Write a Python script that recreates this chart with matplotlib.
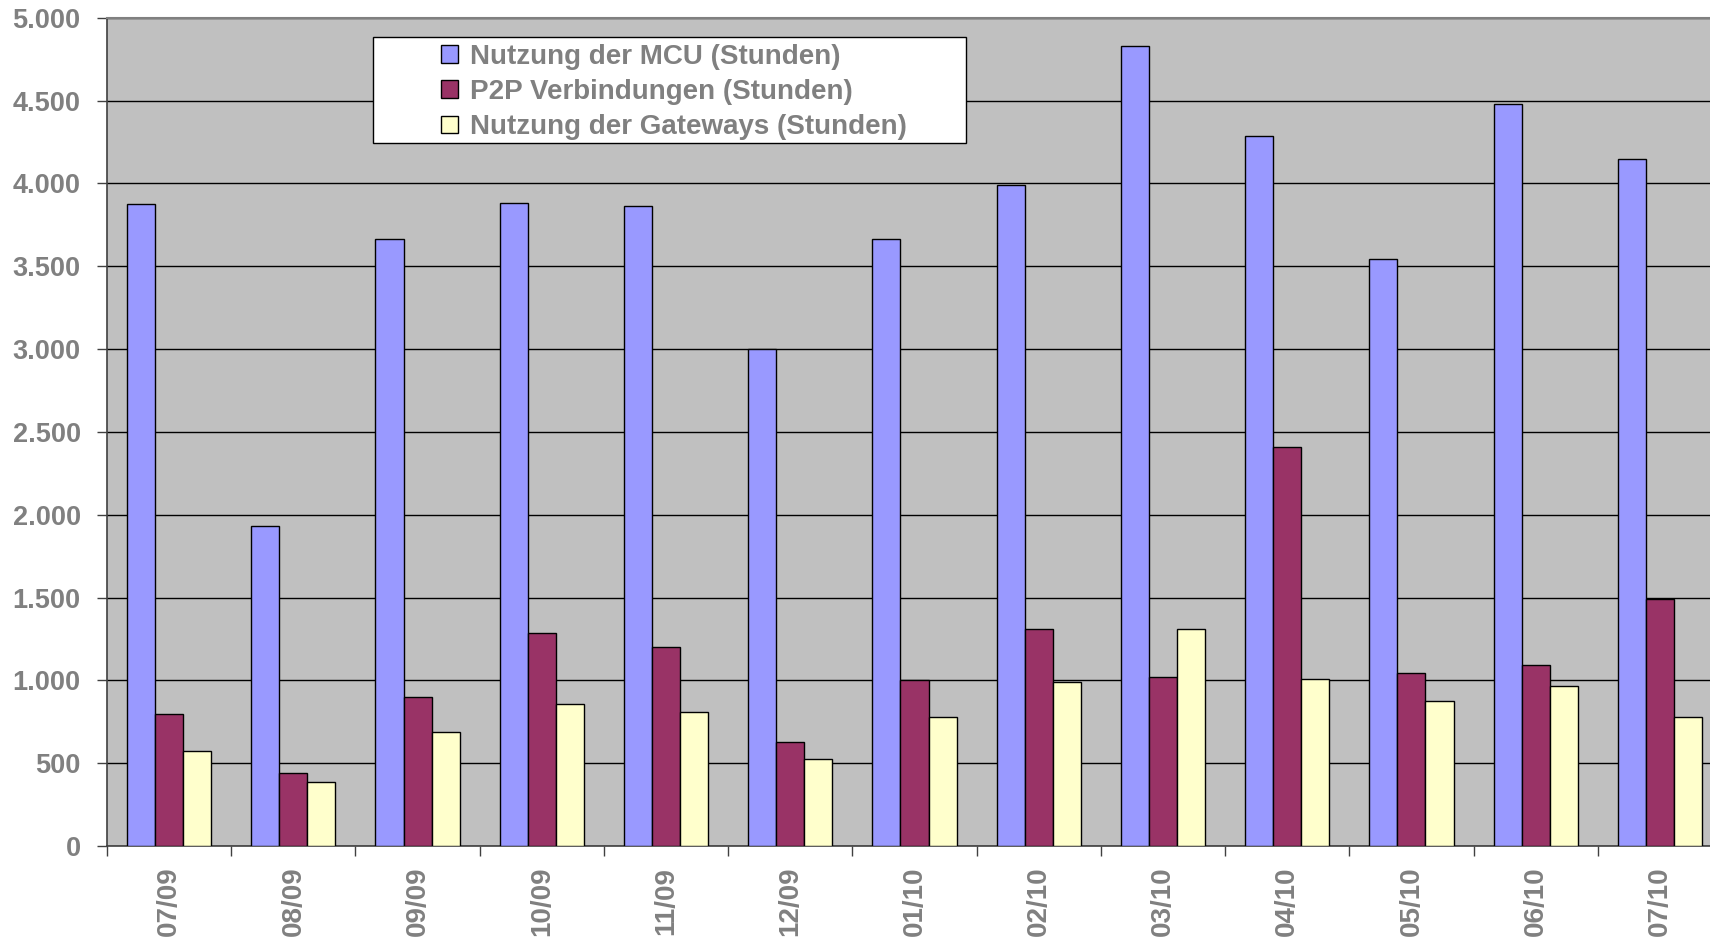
import matplotlib.pyplot as plt
from matplotlib.ticker import FuncFormatter, FixedLocator
from matplotlib.patches import Rectangle
import numpy as np

months = ["07/09", "08/09", "09/09", "10/09", "11/09", "12/09", "01/10",
          "02/10", "03/10", "04/10", "05/10", "06/10", "07/10"]
mcu = [3875, 1934, 3664, 3882, 3862, 3000, 3664, 3987, 4829, 4283, 3546, 4477, 4147]
p2p = [796, 441, 901, 1283, 1204, 625, 1000, 1309, 1020, 2408, 1046, 1092, 1493]
gateways = [572, 388, 691, 855, 809, 526, 776, 987, 1309, 1007, 875, 967, 776]

labels = ["Nutzung der MCU (Stunden)", "P2P Verbindungen (Stunden)",
          "Nutzung der Gateways (Stunden)"]
colors = ["#9999FF", "#993366", "#FFFFCC"]

plt.rcParams['font.family'] = ['Liberation Sans', 'DejaVu Sans']
plt.rcParams['font.weight'] = 'bold'
grey = "#808080"
W, H = 1710, 940

fig = plt.figure(figsize=(17.1, 9.4), dpi=100)
# the plot area runs a bit past the right edge, as in the original
ax = fig.add_axes([0.0626, 0.1, 0.9444, 0.8812])
ax.set_facecolor("#C0C0C0")

x = np.arange(len(months))
w = 0.226
for k, (vals, c, lab) in enumerate(zip([mcu, p2p, gateways], colors, labels)):
    ax.bar(x + (k - 1) * w, vals, width=w, color=c, edgecolor="black",
           linewidth=1.0, label=lab, zorder=3)

ax.set_ylim(0, 5000)
ax.set_xlim(-0.5, len(months) - 0.5)
ax.set_yticks(np.arange(0, 5001, 500))
ax.yaxis.set_major_formatter(FuncFormatter(lambda v, p: f"{int(v):,}".replace(",", ".")))
ax.grid(axis="y", color="black", linewidth=1.0, zorder=1)

ax.set_xticks(x)
ax.set_xticklabels(months, rotation=90)
ax.xaxis.set_minor_locator(FixedLocator(np.arange(-0.5, len(months), 1)))
ax.tick_params(axis="x", which="major", length=0, pad=15, labelsize=20, labelcolor=grey)
ax.tick_params(axis="x", which="minor", length=7, width=1, color="#404040", direction="out")
ax.tick_params(axis="y", length=7, width=1, color="#404040", pad=12, labelsize=19.5,
               labelcolor=grey)

for s in ["left", "bottom"]:
    ax.spines[s].set_color("#404040")
    ax.spines[s].set_linewidth(1.2)
ax.spines["top"].set_color(grey)
ax.spines["top"].set_linewidth(1.5)
ax.spines["right"].set_visible(False)

# legend box: white frame drawn separately, wider than the entries
box = Rectangle((373 / W, 1 - 143 / H), (966 - 373) / W, (143 - 37) / H,
                transform=fig.transFigure, facecolor="white", edgecolor="black",
                linewidth=1.0, zorder=4)
fig.add_artist(box)
handles, labs = ax.get_legend_handles_labels()
leg = fig.legend(handles, labs, loc="center left",
                 bbox_to_anchor=(441 / W, 1 - 92 / H), frameon=False,
                 fontsize=20, handlelength=0.6, handleheight=0.6,
                 handletextpad=0.45, labelspacing=0.34, borderpad=0,
                 borderaxespad=0)
for t in leg.get_texts():
    t.set_color(grey)
leg.set_zorder(5)

fig.savefig("out.png", dpi=100)
